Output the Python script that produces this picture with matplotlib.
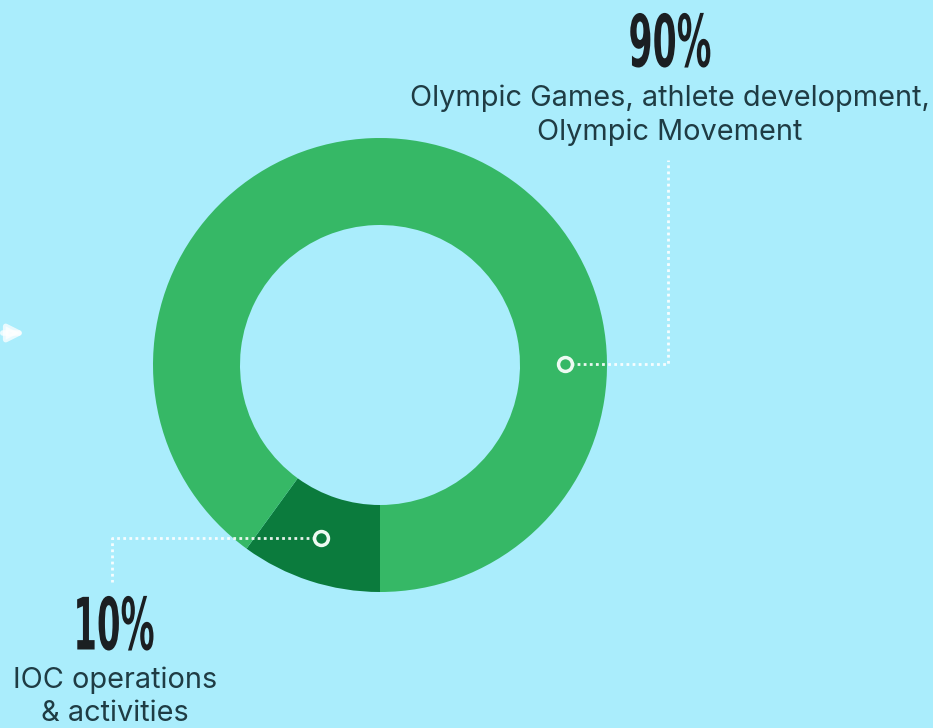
import matplotlib.pyplot as plt
from matplotlib.patheffects import AbstractPathEffect
from matplotlib.transforms import Affine2D

# data
shares = [10, 90]
pct_labels = ['10%', '90%']
descriptions = ['IOC operations\n& activities', 'Olympic Games, athlete development,\nOlympic Movement']
colors = ['#0b7b3d', '#36b866']

bg = '#aaedfc'
W, H = 933, 728


class Squeeze(AbstractPathEffect):
    # narrow the glyphs horizontally around x0 (display px) for a condensed look
    def __init__(self, x0, sx):
        super().__init__()
        self.x0 = x0
        self.sx = sx

    def draw_path(self, renderer, gc, tpath, affine, rgbFace=None):
        squeeze = Affine2D().translate(-self.x0, 0).scale(self.sx, 1).translate(self.x0, 0)
        renderer.draw_path(gc, tpath, affine + squeeze, rgbFace)


fig = plt.figure(figsize=(9.33, 7.28), dpi=100, facecolor=bg)
ax = fig.add_axes([0, 0, 1, 1])
ax.set_facecolor(bg)

# donut, pixel coordinates with y up
cx, cy = 380, H - 365
ax.pie(shares, colors=colors, startangle=234, counterclock=True,
       center=(cx, cy), radius=227, wedgeprops=dict(width=87, linewidth=0))
ax.set_xlim(0, W)
ax.set_ylim(0, H)
ax.set_aspect('equal')
ax.axis('off')

# leader lines
line_kw = dict(color='white', lw=2, ls=(0, (1, 1.2)), alpha=0.9)
ax.plot([571, 668, 668], [H - 364, H - 364, H - 160], **line_kw)
ax.plot([315, 112, 112], [H - 538, H - 538, H - 582], **line_kw)
marker_kw = dict(marker='o', ms=10, mfc='none', mec='#eefaf2', mew=2.5)
ax.plot([565], [H - 364], **marker_kw)
ax.plot([321], [H - 538], **marker_kw)

# big percentages
num_kw = dict(family='DejaVu Sans', fontweight='bold', fontsize=52,
              color='#1b1f22', ha='center', va='center')
ax.text(670, H - 47, pct_labels[1], path_effects=[Squeeze(670, 0.48)], **num_kw)
ax.text(114, H - 630, pct_labels[0], path_effects=[Squeeze(114, 0.47)], **num_kw)

# descriptions
desc_kw = dict(family=['Inter', 'DejaVu Sans'], fontsize=20.8, color='#1f3c44',
               ha='center', va='center', linespacing=1.3)
ax.text(670, H - 115, descriptions[1], **desc_kw)
ax.text(115, H - 697, descriptions[0], **desc_kw)

# small arrow at left edge
ax.annotate('', xy=(28, H - 333), xytext=(0, H - 333),
            arrowprops=dict(arrowstyle='-|>', color='white', lw=4, alpha=0.75,
                            mutation_scale=24))

fig.savefig('out.png', dpi=100, facecolor=bg)
